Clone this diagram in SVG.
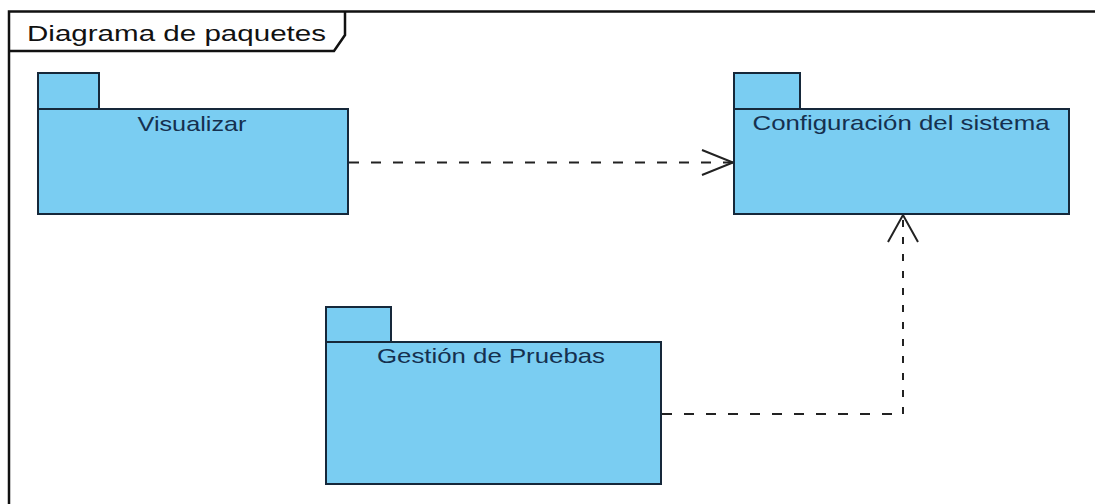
<svg xmlns="http://www.w3.org/2000/svg" width="1095" height="504" viewBox="0 0 1095 504">
<style>
.frame{fill:none;stroke:#111;stroke-width:2.5}
.pkg{fill:#7acdf2;stroke:#16283a;stroke-width:2}
.lbl{font-family:"Liberation Sans",Arial,sans-serif;font-size:21px;fill:#15304f;text-anchor:middle}
.title{font-family:"Liberation Sans",Arial,sans-serif;font-size:22px;fill:#111}
.dh{fill:none;stroke:#222;stroke-width:2;stroke-dasharray:10 12}
.dv{fill:none;stroke:#222;stroke-width:2;stroke-dasharray:7 10}
.head{fill:none;stroke:#222;stroke-width:2}
</style>
<rect x="0" y="0" width="1095" height="504" fill="#fff"/>
<g id="frame">
<path class="frame" d="M9,504 V11.5 H1095"/>
<path class="frame" d="M9,51 H334 L345,35 V11.5" stroke-width="2"/>
<text class="title" x="27" y="41" textLength="299" lengthAdjust="spacingAndGlyphs">Diagrama de paquetes</text>
</g>
<g id="connectors">
<g id="c1">
<path class="dh" d="M349,162.5 H733"/>
<path class="head" d="M702,150 L733,162.5 L702,175"/>
</g>
<g id="c2">
<path class="dh" d="M662,414 H903"/>
<path class="dv" d="M903,414 V215"/>
<path class="head" d="M888,242 L903,215 L918,242"/>
</g>
</g>
<g id="visualizar">
<rect class="pkg" x="38" y="73" width="61" height="36"/>
<rect class="pkg" x="38" y="109" width="310" height="105"/>
<text class="lbl" x="192" y="131" textLength="109" lengthAdjust="spacingAndGlyphs">Visualizar</text>
</g>
<g id="configuracion">
<rect class="pkg" x="734" y="73" width="66" height="36"/>
<rect class="pkg" x="734" y="109" width="335" height="105"/>
<text class="lbl" x="901" y="130" textLength="297" lengthAdjust="spacingAndGlyphs">Configuración del sistema</text>
</g>
<g id="gestion">
<rect class="pkg" x="326" y="307" width="65" height="35"/>
<rect class="pkg" x="326" y="342" width="335" height="142"/>
<text class="lbl" x="491" y="363" textLength="228" lengthAdjust="spacingAndGlyphs">Gestión de Pruebas</text>
</g>
</svg>
